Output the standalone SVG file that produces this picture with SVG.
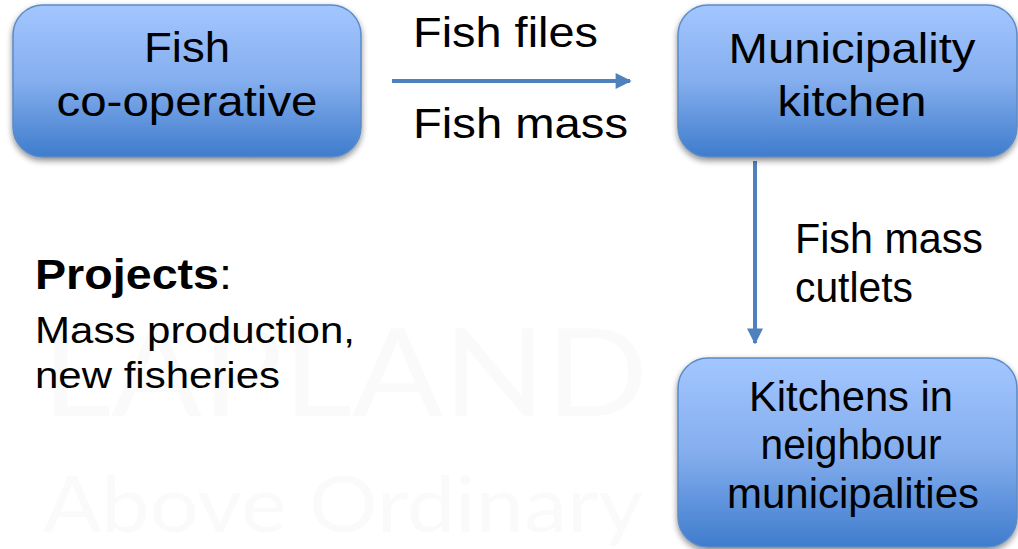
<svg xmlns="http://www.w3.org/2000/svg" width="1018" height="549" viewBox="0 0 1018 549">
<defs>
<linearGradient id="g" x1="0" y1="0" x2="0" y2="1">
<stop offset="0" stop-color="#a3c6ff"/>
<stop offset="0.5" stop-color="#84aeee"/>
<stop offset="1" stop-color="#3f7ccd"/>
</linearGradient>
<filter id="sh" x="-10%" y="-10%" width="120%" height="130%">
<feGaussianBlur in="SourceAlpha" stdDeviation="3"/>
<feOffset dy="3" result="b"/>
<feComponentTransfer><feFuncA type="linear" slope="0.45"/></feComponentTransfer>
<feMerge><feMergeNode/><feMergeNode in="SourceGraphic"/></feMerge>
</filter>
<marker id="ah" viewBox="0 0 10 10" refX="9" refY="5" markerWidth="4.5" markerHeight="4" orient="auto" markerUnits="strokeWidth">
<path d="M0,0 L10,5 L0,10 Z" fill="#4f81bd"/>
</marker>
<style>
.box{fill:url(#g);stroke:#5b8bc7;stroke-width:1.5;filter:url(#sh)}
.t{font-family:"Liberation Sans",Arial,sans-serif;fill:#000}
.big{font-size:42px}
.c{text-anchor:middle}
.wm{font-family:Lato,"Liberation Sans",sans-serif;fill:#fafafa}
.conn{stroke:#4f81bd;stroke-width:4;fill:none}
</style>
</defs>
<rect width="1018" height="549" fill="#fff"/>
<g id="watermark">
<text class="wm" x="42" y="416" font-size="122" textLength="606" lengthAdjust="spacingAndGlyphs">LAPLAND</text>
<text class="wm" x="43" y="532" font-size="78" textLength="600" lengthAdjust="spacingAndGlyphs">Above Ordinary</text>
</g>
<g id="connectors">
<line class="conn" x1="392" y1="81" x2="630" y2="81" marker-end="url(#ah)"/>
<line class="conn" x1="755" y1="161" x2="755" y2="343" marker-end="url(#ah)"/>
</g>
<g id="n1">
<rect class="box" x="13" y="5" width="348" height="152" rx="30"/>
<text class="t big c" x="187" y="62" textLength="86" lengthAdjust="spacingAndGlyphs">Fish</text>
<text class="t big c" x="187" y="116" textLength="261" lengthAdjust="spacingAndGlyphs">co-operative</text>
</g>
<g id="n2">
<rect class="box" x="678" y="5" width="339" height="152" rx="30"/>
<text class="t big c" x="852" y="63" textLength="247" lengthAdjust="spacingAndGlyphs">Municipality</text>
<text class="t big c" x="852" y="116" textLength="149" lengthAdjust="spacingAndGlyphs">kitchen</text>
</g>
<g id="n3">
<rect class="box" x="678" y="358" width="339" height="189" rx="30"/>
<text class="t big c" x="851" y="411" textLength="204" lengthAdjust="spacingAndGlyphs">Kitchens in</text>
<text class="t big c" x="851" y="459" textLength="181" lengthAdjust="spacingAndGlyphs">neighbour</text>
<text class="t big c" x="853" y="508" textLength="252" lengthAdjust="spacingAndGlyphs">municipalities</text>
</g>
<g id="labels">
<text class="t big" x="413" y="47" textLength="185" lengthAdjust="spacingAndGlyphs">Fish files</text>
<text class="t big" x="413" y="138" textLength="215" lengthAdjust="spacingAndGlyphs">Fish mass</text>
<text class="t big" x="795" y="253" textLength="188" lengthAdjust="spacingAndGlyphs">Fish mass</text>
<text class="t big" x="795" y="302" textLength="118" lengthAdjust="spacingAndGlyphs">cutlets</text>
<text class="t big" x="35" y="289" textLength="197" lengthAdjust="spacingAndGlyphs"><tspan font-weight="bold">Projects</tspan>:</text>
<text class="t" x="35" y="343" font-size="36" textLength="320" lengthAdjust="spacingAndGlyphs">Mass production,</text>
<text class="t" x="35" y="388" font-size="36" textLength="245" lengthAdjust="spacingAndGlyphs">new fisheries</text>
</g>
</svg>
